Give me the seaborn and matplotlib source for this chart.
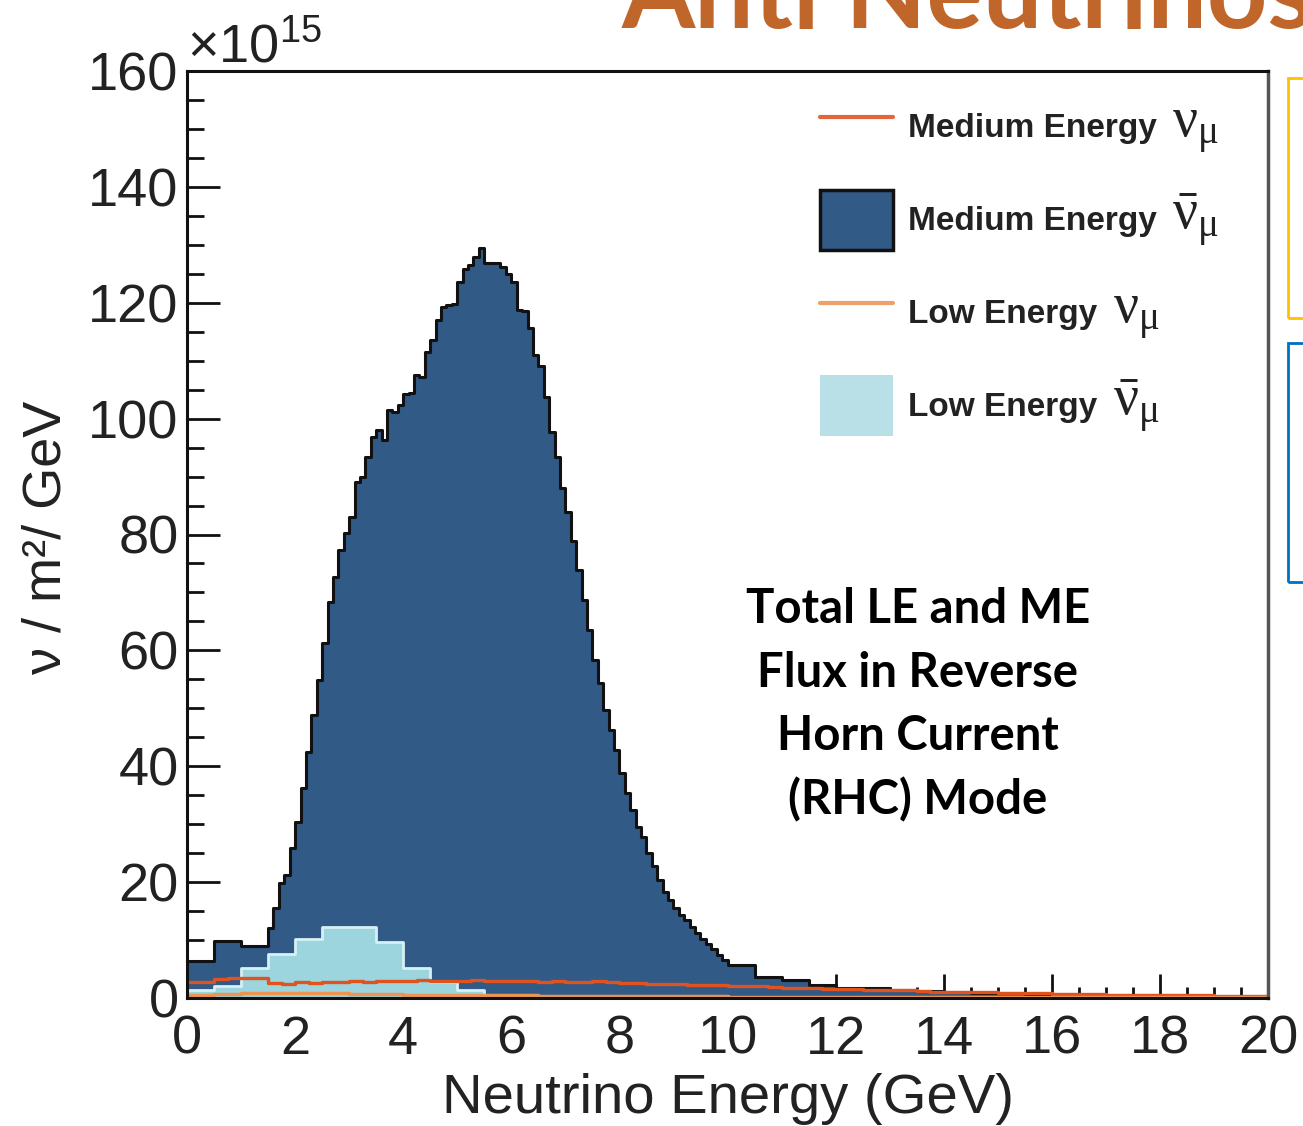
import numpy as np
import pandas as pd
import matplotlib.pyplot as plt
from matplotlib.lines import Line2D
from matplotlib.patches import Patch, Rectangle
from matplotlib.ticker import MultipleLocator
import seaborn as sns

# Medium energy anti-neutrino flux (x1e15 nu/m2/GeV), variable bins
me_bar_edges = np.concatenate([[0.0, 0.5, 1.0],
                               np.round(1.5 + 0.1 * np.arange(85), 2),
                               np.round(10.0 + 0.5 * np.arange(21), 2)])
me_bar_flux = [
    6.3, 9.8, 8.9,
    12.1, 15.5, 19.8, 21.2, 25.9, 30.4, 36.2, 42.5, 48.8, 54.9,
    61.2, 68.4, 72.7, 77.3, 80.3, 83.1, 89.1, 90.0, 93.4, 96.9,
    98.0, 96.3, 101.5, 101.2, 102.3, 104.2, 104.4, 107.5, 107.2, 111.5,
    113.6, 117.0, 119.2, 119.6, 119.8, 123.6, 125.9, 126.5, 127.9, 129.4,
    126.9, 126.8, 126.8, 126.2, 125.0, 123.6, 118.7, 118.5, 115.6, 111.0,
    109.0, 103.8, 97.7, 93.4, 88.0, 83.9, 78.8, 73.9, 68.7, 63.5,
    58.3, 54.3, 49.7, 46.3, 42.8, 38.8, 35.3, 32.4, 29.6, 27.8,
    25.0, 22.7, 20.4, 18.3, 16.9, 15.5, 14.3, 13.5, 12.3, 11.2,
    10.2, 9.3, 8.4, 7.5, 6.6,
    5.7, 3.7, 3.1, 2.2, 1.8, 1.7, 1.4, 1.2, 1.0, 0.9,
    0.8, 0.7, 0.65, 0.6, 0.55, 0.5, 0.45, 0.4, 0.4, 0.35,
]

# Medium energy neutrino flux, 0.25 GeV bins
me_nu_edges = np.round(0.25 * np.arange(81), 2)
me_nu_flux = [
    2.8, 2.8, 3.3, 3.4, 3.4, 3.4,
    2.6, 2.5, 2.7, 2.6, 2.8, 2.7,
    2.9, 2.8, 3.0, 2.9, 3.0, 3.1, 2.9, 3.0,
    3.0, 3.1, 2.9, 3.0, 3.0, 2.9, 2.8, 2.9,
    2.8, 2.8, 2.9, 2.7, 2.6, 2.6, 2.5, 2.5,
    2.4, 2.3, 2.3, 2.2, 2.1, 2.0, 2.0, 1.9,
    1.8, 1.8, 1.7, 1.6, 1.6, 1.5, 1.4, 1.4,
    1.3, 1.3, 1.2, 1.1, 1.1, 1.0, 1.0, 0.95,
    0.9, 0.85, 0.8, 0.8, 0.75, 0.7, 0.7, 0.65,
    0.6, 0.6, 0.55, 0.55, 0.5, 0.5, 0.45, 0.45, 0.4, 0.4, 0.4, 0.35,
]

# Low energy anti-neutrino flux, 0.5 GeV bins (0-10 GeV)
le_bar_edges = np.round(0.5 * np.arange(21), 2)
le_bar_flux = [1.4, 2.1, 5.2, 7.6, 10.1, 12.2, 12.2, 9.6, 5.2, 2.8,
               1.4, 0.5, 0.3, 0.2, 0.15, 0.12, 0.1, 0.08, 0.06, 0.05]

# Low energy neutrino flux, 0.5 GeV bins
le_nu_edges = np.round(0.5 * np.arange(41), 2)
le_nu_flux = [0.6, 0.7, 0.8, 0.8, 0.8, 0.8, 0.7, 0.7, 0.6, 0.6,
              0.5, 0.5, 0.45, 0.4, 0.4, 0.35, 0.35, 0.3, 0.3, 0.3,
              0.25, 0.25, 0.25, 0.2, 0.2, 0.2, 0.2, 0.2, 0.2, 0.15,
              0.15, 0.15, 0.15, 0.15, 0.15, 0.15, 0.1, 0.1, 0.1, 0.1]

legend_labels = ["Medium Energy", "Medium Energy", "Low Energy", "Low Energy"]
legend_symbols = [r"$\mathrm{\nu_{\mu}}$", r"$\mathrm{\bar{\nu}_{\mu}}$",
                  r"$\mathrm{\nu_{\mu}}$", r"$\mathrm{\bar{\nu}_{\mu}}$"]

DARK = "#315a87"
LIGHT = "#9dd5df"
RED = "#e0521e"
ORANGE = "#eb9550"
W, H = 1303, 1126

sns.set_style("ticks")
plt.rcParams["font.family"] = ["Liberation Sans", "DejaVu Sans"]
plt.rcParams["mathtext.fontset"] = "custom"
plt.rcParams["mathtext.rm"] = "Liberation Serif"
plt.rcParams["mathtext.it"] = "Liberation Serif:italic"


def hist_df(edges, flux):
    e = np.asarray(edges)
    return pd.DataFrame({"energy": (e[:-1] + e[1:]) / 2, "flux": flux})


fig = plt.figure(figsize=(W / 100, H / 100), dpi=100)
ax = fig.add_axes([187 / W, 1 - 998 / H, 1081 / W, 927 / H])

me_bar = hist_df(me_bar_edges, me_bar_flux)
le_bar = hist_df(le_bar_edges, le_bar_flux)
me_nu = hist_df(me_nu_edges, me_nu_flux)
le_nu = hist_df(le_nu_edges, le_nu_flux)

sns.histplot(data=me_bar, x="energy", weights="flux", bins=list(me_bar_edges),
             element="step", fill=True, color=DARK, alpha=1, linewidth=0, ax=ax)
sns.histplot(data=le_bar, x="energy", weights="flux", bins=list(le_bar_edges),
             element="step", fill=True, color=LIGHT, alpha=1, linewidth=0, ax=ax)
sns.histplot(data=le_bar, x="energy", weights="flux", bins=list(le_bar_edges),
             element="step", fill=False, color="#d6f1f5", linewidth=2, ax=ax)
sns.histplot(data=me_bar, x="energy", weights="flux", bins=list(me_bar_edges),
             element="step", fill=False, color="#111111", linewidth=2.2, ax=ax)
sns.histplot(data=me_nu, x="energy", weights="flux", bins=list(me_nu_edges),
             element="step", fill=False, color=RED, linewidth=2.4, ax=ax)
sns.histplot(data=le_nu, x="energy", weights="flux", bins=list(le_nu_edges),
             element="step", fill=False, color=ORANGE, linewidth=2.5, ax=ax)

ax.set_xlim(0, 20)
ax.set_ylim(0, 160)
ax.xaxis.set_major_locator(MultipleLocator(2))
ax.xaxis.set_minor_locator(MultipleLocator(0.5))
ax.yaxis.set_major_locator(MultipleLocator(20))
ax.yaxis.set_minor_locator(MultipleLocator(5))
ax.tick_params(which="both", direction="in", top=False, right=False,
               labelsize=39, labelcolor="#222222", color="#111111")
ax.tick_params(axis="x", which="major", length=17, width=2, pad=12)
ax.tick_params(axis="x", which="minor", length=8, width=2)
ax.tick_params(axis="y", which="major", length=24, width=2, pad=6)
ax.tick_params(axis="y", which="minor", length=12, width=2)
for side in ["left", "bottom", "top"]:
    ax.spines[side].set_linewidth(2.2)
    ax.spines[side].set_color("#111111")
ax.spines["right"].set_linewidth(2.5)
ax.spines["right"].set_color("#555555")

ax.set_xlabel("Neutrino Energy (GeV)", fontsize=40.5, color="#222222")
ax.set_ylabel("ν / m²/ GeV", fontsize=39, color="#222222")
ax.xaxis.set_label_coords(0.5, -0.081)
ax.yaxis.set_label_coords(-0.107, 0.497)

ax.text(0.0, 1.009, r"$\mathregular{\times10^{15}}$", transform=ax.transAxes,
        fontsize=39, color="#222222", ha="left", va="baseline")

handles = [Line2D([], [], color="#e5653a", lw=3),
           Patch(facecolor=DARK, edgecolor="#111111", linewidth=2.5),
           Line2D([], [], color="#eca06c", lw=3),
           Patch(facecolor="#b8e0e6", edgecolor="none")]
leg = ax.legend(handles, legend_labels, loc="upper left",
                bbox_to_anchor=((820 - 187) / 1081, 0.972),
                frameon=False, prop=dict(weight="bold", size=24), labelcolor="#222222",
                handlelength=2.2, handleheight=2.4, labelspacing=0.98,
                handletextpad=0.45, borderpad=0, borderaxespad=0)

ax.text(0.676, 0.316, "Total LE and ME\nFlux in Reverse\nHorn Current\n(RHC) Mode",
        transform=ax.transAxes, ha="center", va="center", fontsize=34,
        fontweight="bold", family=["Lato", "DejaVu Sans"], linespacing=1.53,
        color="black")

fig.text(622 / W, 1 - 28 / H, "Anti Neutrinos", fontsize=76, fontweight="bold",
         family=["Lato", "DejaVu Sans"], color="#c0662b", ha="left", va="baseline")

fig.add_artist(Rectangle((1288 / W, 1 - 318 / H), 0.05, 240 / H,
                         transform=fig.transFigure, fill=False, ec="#ffc000", lw=2))
fig.add_artist(Rectangle((1288 / W, 1 - 582 / H), 0.05, 239 / H,
                         transform=fig.transFigure, fill=False, ec="#0070c0", lw=2))

# neutrino symbols drawn larger right after each legend label
fig.canvas.draw()
renderer = fig.canvas.get_renderer()
for txt, sym in zip(leg.get_texts(), legend_symbols):
    bb = txt.get_window_extent(renderer)
    _, _, descent = renderer.get_text_width_height_descent(
        txt.get_text(), txt.get_fontproperties(), ismath=False)
    fig.text((bb.x1 + 15) / W, (bb.y0 + descent) / H, sym, fontsize=40,
             color="#222222", ha="left", va="baseline")

fig.savefig("out.png", dpi=100)
